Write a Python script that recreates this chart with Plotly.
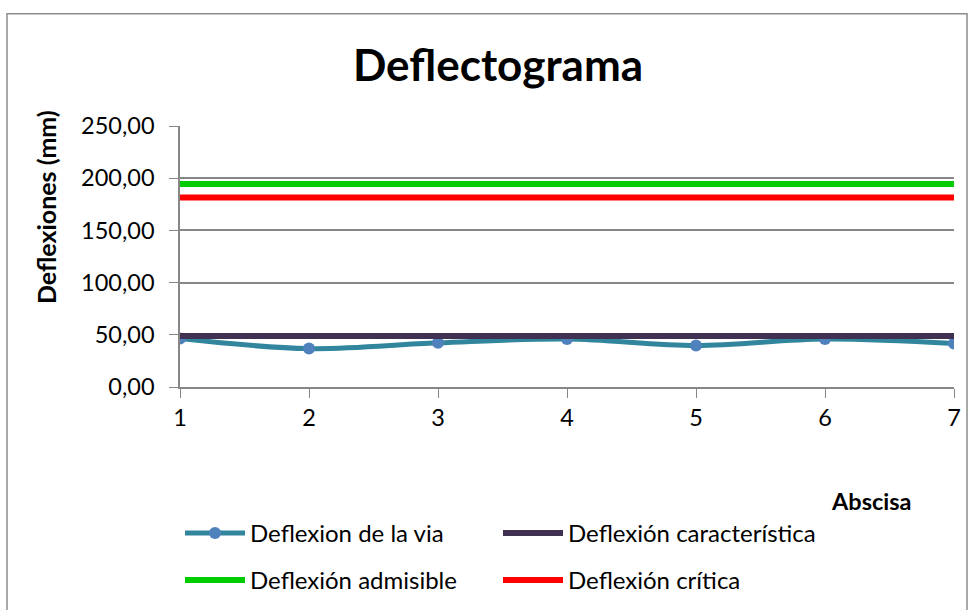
import plotly.graph_objects as go

abscisa = [1, 2, 3, 4, 5, 6, 7]
deflexion_via = [46.4, 36.8, 42.3, 46.0, 39.8, 46.0, 41.6]
deflexion_caracteristica = [48.9] * 7
deflexion_admisible = [194.4] * 7
deflexion_critica = [181.6] * 7
y_ticks = [0, 50, 100, 150, 200, 250]
y_ticktext = ["0,00", "50,00", "100,00", "150,00", "200,00", "250,00"]

FONT = "Lato"
GRID = "#878787"

fig = go.Figure()
fig.add_trace(go.Scatter(
    x=abscisa, y=deflexion_via, name="Deflexion de la via",
    mode="lines+markers", line=dict(color="#31859C", width=5, shape="spline", smoothing=1),
    marker=dict(color="#4F81BD", size=12), legend="legend"))
fig.add_trace(go.Scatter(
    x=abscisa, y=deflexion_caracteristica, name="Deflexión característica",
    mode="lines", line=dict(color="#403152", width=6), legend="legend"))
fig.add_trace(go.Scatter(
    x=abscisa, y=deflexion_admisible, name="Deflexión admisible",
    mode="lines", line=dict(color="#00CC00", width=6), legend="legend2"))
fig.add_trace(go.Scatter(
    x=abscisa, y=deflexion_critica, name="Deflexión crítica",
    mode="lines", line=dict(color="#FF0000", width=6), legend="legend2"))

legend_common = dict(orientation="h", font=dict(family=FONT, size=24, color="#000"),
                     itemwidth=60, entrywidth=243, entrywidthmode="pixels",
                     xanchor="left", yanchor="middle", bgcolor="rgba(0,0,0,0)")

fig.update_layout(
    width=977, height=610,
    margin=dict(l=180, r=23, t=126, b=223, autoexpand=False),
    paper_bgcolor="white", plot_bgcolor="white",
    font=dict(family=FONT, color="#000"),
    title=dict(text="<b>Deflectograma</b>", x=498/977, xanchor="center",
               y=1-66/610, yanchor="middle", font=dict(family=FONT, size=44, color="#000")),
    xaxis=dict(range=[1, 7], tickvals=abscisa, ticks="outside", ticklen=9, tickcolor=GRID,
               showline=True, linecolor=GRID, linewidth=1.5, showgrid=False, zeroline=False,
               tickfont=dict(family=FONT, size=23.5, color="#000")),
    yaxis=dict(range=[0, 250], tickvals=y_ticks, ticktext=y_ticktext, ticks="outside", ticklen=9,
               tickcolor=GRID, showline=True, linecolor=GRID, linewidth=1.5,
               showgrid=True, gridcolor=GRID, gridwidth=1.5, zeroline=False,
               ticklabelstandoff=10,
               tickfont=dict(family=FONT, size=23.5, color="#000")),
    legend=dict(x=(180-180)/774, y=(386.7-533)/260.7, **legend_common),
    legend2=dict(x=(180-180)/774, y=(386.7-580)/260.7, **legend_common),
    showlegend=True,
    annotations=[
        dict(text="<b>Deflexiones (mm)</b>", textangle=-90, xref="paper", yref="paper",
             x=(46-180)/774, y=(386.7-207)/260.7, xanchor="center", yanchor="middle",
             showarrow=False, font=dict(family=FONT, size=25, color="#000")),
        dict(text="<b>Abscisa</b>", xref="paper", yref="paper",
             x=(871-180)/774, y=(386.7-501)/260.7, xanchor="center", yanchor="middle",
             showarrow=False, font=dict(family=FONT, size=23.5, color="#000")),
    ],
    shapes=[dict(type="rect", xref="paper", yref="paper",
                 x0=(7-180)/774, x1=(967-180)/774, y0=-0.95, y1=(386.7-14)/260.7,
                 line=dict(color="#8C8C8C", width=1.5), fillcolor="rgba(0,0,0,0)", layer="below")],
)

fig.write_html("out.html")
